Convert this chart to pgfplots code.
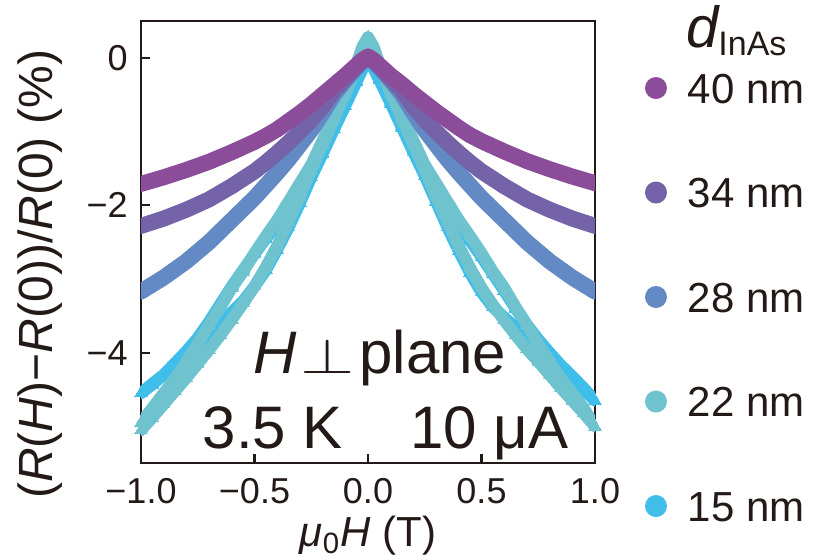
\documentclass[border=0pt]{standalone}
\usepackage{fontspec}
\setmainfont{Liberation Sans}
\usepackage{pgfplots}
\pgfplotsset{compat=1.18}
\definecolor{c40}{HTML}{8B4D9A}
\definecolor{c34}{HTML}{7463A8}
\definecolor{c28}{HTML}{648AC6}
\definecolor{c22}{HTML}{6FC3CF}
\definecolor{c15}{HTML}{40BEEA}
\definecolor{txt}{HTML}{231916}
\begin{document}
\begin{tikzpicture}
\path[use as bounding box] (0,0) rectangle (415pt,280pt);
\begin{axis}[
  at={(70.5pt,48.35pt)}, anchor=south west,
  scale only axis, width=227pt, height=221.15pt,
  xmin=-1, xmax=1, ymin=-5.5, ymax=0.5,
  clip mode=individual,
  xtick={-1,-0.5,0,0.5,1}, xticklabels={−1.0,−0.5,0.0,0.5,1.0},
  ytick={-4,-2,0}, yticklabels={−4,−2,0},
  tick align=inside, xtick pos=bottom, ytick pos=left,
  major tick length=4.5pt,
  axis line style={line width=1.2pt, color=txt},
  every tick/.style={line width=1.2pt, color=txt},
  tick label style={font=\fontsize{18}{18}\selectfont, text=txt},
  xticklabel style={inner sep=0pt, anchor=north, yshift=-7.5pt},
  yticklabel style={inner sep=0pt, anchor=east, xshift=-6.5pt},
  xlabel={\textit{μ}\textsubscript{0}\textit{H} (T)},
  xlabel style={at={(axis description cs:0.5,-0.189)}, anchor=base, inner sep=0pt, font=\fontsize{21}{21}\selectfont, text=txt},
  ylabel={(\textit{R}(\textit{H})−\textit{R}(0))/\textit{R}(0) (\%)},
  ylabel style={at={(axis description cs:-0.2225,0.428)}, anchor=center, inner sep=0pt, font=\fontsize{24}{24}\selectfont, text=txt},
  legend style={at={(axis description cs:1.0925,0.8824)}, anchor=north west, draw=none, fill=none, inner sep=0pt, outer sep=0pt, row sep=37.25pt, column sep=0pt, font=\fontsize{21}{21}\selectfont, text=txt, nodes={inner sep=0pt, text height=15pt, text depth=0pt}},
  legend cell align=left,
  reverse legend,
  legend image code/.code={\fill[draw=none, line width=0pt] (5.5pt,0pt) circle (5.5pt); \path (0pt,0pt) (17.5pt,0pt);},
  every axis plot/.append style={line join=round, line cap=round},
]
% 15 nm
\addplot[c15, line width=6pt, mark=triangle*, mark size=3.6pt, mark options={line width=0pt, draw=none}] coordinates {
(-1,-4.55)(-0.95,-4.42)(-0.9,-4.3)(-0.85,-4.15)(-0.8,-4.02)(-0.75,-3.88)(-0.7,-3.75)(-0.65,-3.6)(-0.6,-3.45)(-0.55,-3.3)(-0.5,-3.1)(-0.45,-2.88)(-0.4,-2.6)(-0.35,-2.3)(-0.3,-1.97)(-0.25,-1.62)(-0.2,-1.3)(-0.15,-0.97)(-0.1,-0.65)(-0.05,-0.32)(0,0.0)
(0.05,-0.3)(0.1,-0.62)(0.15,-0.95)(0.2,-1.28)(0.25,-1.6)(0.3,-1.95)(0.35,-2.3)(0.4,-2.62)(0.45,-2.92)(0.5,-3.18)(0.55,-3.38)(0.6,-3.52)(0.65,-3.66)(0.7,-3.8)(0.75,-3.93)(0.8,-4.06)(0.85,-4.2)(0.9,-4.35)(0.95,-4.5)(1,-4.65)
(0.95,-4.48)(0.9,-4.32)(0.85,-4.17)(0.8,-4.0)(0.75,-3.82)(0.7,-3.62)(0.65,-3.4)(0.6,-3.16)(0.55,-2.93)(0.5,-2.7)(0.45,-2.48)(0.4,-2.27)(0.35,-2.04)(0.3,-1.8)(0.25,-1.55)(0.2,-1.25)(0.15,-0.92)(0.1,-0.6)(0.05,-0.28)(0,0.05)
(-0.05,-0.28)(-0.1,-0.6)(-0.15,-0.92)(-0.2,-1.25)(-0.25,-1.55)(-0.3,-1.8)(-0.35,-2.02)(-0.4,-2.25)(-0.45,-2.45)(-0.5,-2.66)(-0.55,-2.88)(-0.6,-3.1)(-0.65,-3.34)(-0.7,-3.58)(-0.75,-3.8)(-0.8,-3.98)(-0.85,-4.14)(-0.9,-4.3)(-0.95,-4.43)(-1,-4.55)
};
\addlegendentry{15 nm}
% 22 nm
\addplot[c22, line width=6pt, mark=triangle*, mark size=3.6pt, mark options={line width=0pt, draw=none}] coordinates {
(-1,-5.05)(-0.95,-4.88)(-0.9,-4.7)(-0.85,-4.52)(-0.8,-4.34)(-0.75,-4.15)(-0.7,-3.96)(-0.65,-3.76)(-0.6,-3.55)(-0.55,-3.33)(-0.5,-3.1)(-0.45,-2.84)(-0.4,-2.55)(-0.35,-2.22)(-0.3,-1.88)(-0.25,-1.52)(-0.2,-1.18)(-0.15,-0.83)(-0.1,-0.48)(-0.05,-0.12)(-0.025,0.1)(0,0.25)
(0.025,0.12)(0.05,-0.1)(0.1,-0.48)(0.15,-0.83)(0.2,-1.18)(0.25,-1.52)(0.3,-1.88)(0.35,-2.22)(0.4,-2.55)(0.45,-2.85)(0.5,-3.12)(0.55,-3.35)(0.6,-3.56)(0.65,-3.76)(0.7,-3.95)(0.75,-4.12)(0.8,-4.3)(0.85,-4.48)(0.9,-4.65)(0.95,-4.82)(1,-5.0)
(0.95,-4.75)(0.9,-4.55)(0.85,-4.35)(0.8,-4.12)(0.75,-3.88)(0.7,-3.62)(0.65,-3.38)(0.6,-3.12)(0.55,-2.9)(0.5,-2.65)(0.45,-2.42)(0.4,-2.2)(0.35,-1.95)(0.3,-1.7)(0.25,-1.45)(0.2,-1.12)(0.15,-0.78)(0.1,-0.44)(0.05,-0.08)(0.025,0.15)(0,0.28)
(-0.025,0.15)(-0.05,-0.08)(-0.1,-0.44)(-0.15,-0.78)(-0.2,-1.12)(-0.25,-1.45)(-0.3,-1.7)(-0.35,-1.95)(-0.4,-2.2)(-0.45,-2.42)(-0.5,-2.65)(-0.55,-2.9)(-0.6,-3.12)(-0.65,-3.38)(-0.7,-3.62)(-0.75,-3.88)(-0.8,-4.12)(-0.85,-4.35)(-0.9,-4.55)(-0.95,-4.75)(-1,-4.95)
};
\addlegendentry{22 nm}
% 28 nm
\addplot[c28, line width=8pt] coordinates {
(-1,-3.17)(-0.9,-2.98)(-0.8,-2.76)(-0.7,-2.5)(-0.6,-2.2)(-0.5,-1.9)(-0.45,-1.73)(-0.4,-1.56)(-0.35,-1.38)(-0.3,-1.18)(-0.25,-0.98)(-0.2,-0.75)(-0.15,-0.5)(-0.1,-0.31)(-0.075,-0.22)(-0.05,-0.13)(-0.025,-0.05)(0,0.0)
(0.025,-0.05)(0.05,-0.13)(0.075,-0.22)(0.1,-0.31)(0.15,-0.5)(0.2,-0.75)(0.25,-0.98)(0.3,-1.18)(0.35,-1.38)(0.4,-1.56)(0.45,-1.73)(0.5,-1.9)(0.6,-2.2)(0.7,-2.5)(0.8,-2.76)(0.9,-2.98)(1,-3.17)
};
\addlegendentry{28 nm}
% 34 nm
\addplot[c34, line width=8pt] coordinates {
(-1,-2.28)(-0.9,-2.18)(-0.8,-2.06)(-0.7,-1.92)(-0.6,-1.74)(-0.5,-1.54)(-0.45,-1.42)(-0.4,-1.29)(-0.35,-1.15)(-0.3,-1.0)(-0.25,-0.84)(-0.2,-0.66)(-0.15,-0.45)(-0.1,-0.28)(-0.075,-0.2)(-0.05,-0.12)(-0.025,-0.05)(0,0.0)
(0.025,-0.05)(0.05,-0.12)(0.075,-0.2)(0.1,-0.28)(0.15,-0.45)(0.2,-0.66)(0.25,-0.84)(0.3,-1.0)(0.35,-1.15)(0.4,-1.29)(0.45,-1.42)(0.5,-1.54)(0.6,-1.74)(0.7,-1.92)(0.8,-2.06)(0.9,-2.18)(1,-2.28)
};
\addlegendentry{34 nm}
% 40 nm
\addplot[c40, line width=8pt] coordinates {
(-1,-1.71)(-0.9,-1.62)(-0.8,-1.52)(-0.7,-1.41)(-0.6,-1.28)(-0.5,-1.14)(-0.45,-1.06)(-0.4,-0.97)(-0.35,-0.86)(-0.3,-0.75)(-0.25,-0.63)(-0.2,-0.5)(-0.15,-0.37)(-0.1,-0.24)(-0.075,-0.17)(-0.05,-0.1)(-0.025,-0.03)(0,0.02)
(0.025,-0.03)(0.05,-0.1)(0.075,-0.17)(0.1,-0.24)(0.15,-0.36)(0.2,-0.49)(0.25,-0.61)(0.3,-0.73)(0.35,-0.84)(0.4,-0.95)(0.45,-1.05)(0.5,-1.13)(0.6,-1.27)(0.7,-1.4)(0.8,-1.51)(0.9,-1.61)(1,-1.70)
};
\addlegendentry{40 nm}
\node[anchor=base west, inner sep=0pt, text=txt, font=\fontsize{30}{30}\selectfont] at (axis cs:-0.505,-4.28) {\textit{H}\hspace{1.5pt}\scalebox{1.4}[1.0]{$\perp$}\hspace{2.5pt}plane};
\node[anchor=base west, inner sep=0pt, text=txt, font=\fontsize{30}{30}\selectfont] at (axis cs:-0.73,-5.30) {3.5 K};
\node[anchor=base west, inner sep=0pt, text=txt, font=\fontsize{30}{30}\selectfont] at (axis cs:0.186,-5.30) {10 μA};
\node[anchor=base west, inner sep=0pt, text=txt] at (axis description cs:1.2,0.941) {{\fontsize{29}{29}\selectfont\itshape d}\raisebox{-4pt}{\fontsize{17}{17}\selectfont InAs}};
\end{axis}
\end{tikzpicture}
\end{document}
